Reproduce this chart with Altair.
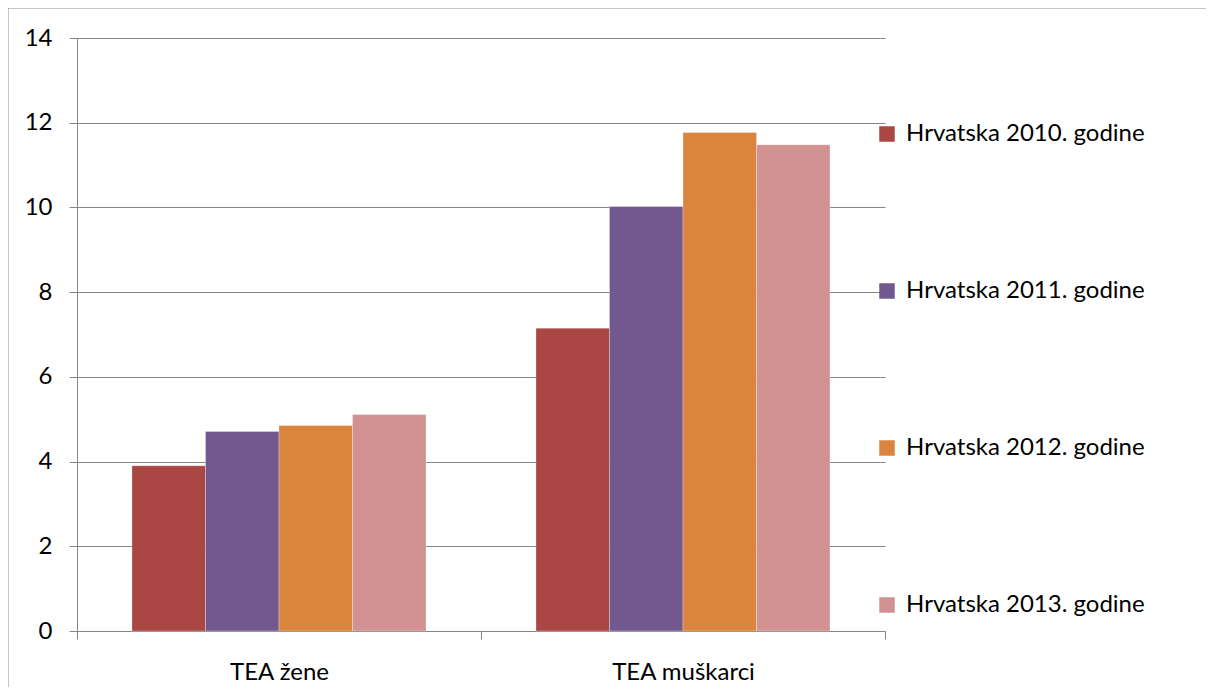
import altair as alt
import pandas as pd

categories = ["TEA žene", "TEA muškarci"]
series = ["Hrvatska 2010. godine", "Hrvatska 2011. godine",
          "Hrvatska 2012. godine", "Hrvatska 2013. godine"]
v2010 = [3.90, 7.15]
v2011 = [4.71, 10.02]
v2012 = [4.85, 11.77]
v2013 = [5.11, 11.48]
colors = ["#AA4643", "#71588F", "#DB843D", "#D39292"]
y_ticks = [0, 2, 4, 6, 8, 10, 12, 14]

rows = []
for s, vals in zip(series, [v2010, v2011, v2012, v2013]):
    for c, v in zip(categories, vals):
        rows.append({"kategorija": c, "serija": s, "vrijednost": v})
df = pd.DataFrame(rows)

FONT = "Lato"
FS = 24
GRAY = "#868686"
W, H = 808, 593

bars = alt.Chart(df).mark_bar(stroke="white", strokeWidth=0.6, strokeOpacity=0.5).encode(
    x=alt.X("kategorija:N", sort=categories,
            scale=alt.Scale(paddingInner=0, paddingOuter=0),
            axis=alt.Axis(title=None, labelAngle=0, tickBand="extent", grid=False,
                          domainColor=GRAY, tickColor=GRAY, tickSize=8,
                          labelFont=FONT, labelFontSize=FS, labelColor="black",
                          labelPadding=21)),
    xOffset=alt.XOffset("serija:N", sort=series,
                        scale=alt.Scale(paddingInner=0, paddingOuter=0.748)),
    y=alt.Y("vrijednost:Q", scale=alt.Scale(domain=[0, 14]),
            axis=alt.Axis(title=None, values=y_ticks, grid=True, gridColor=GRAY,
                          domainColor=GRAY, tickColor=GRAY, tickSize=8,
                          labelFont=FONT, labelFontSize=FS, labelColor="black",
                          labelPadding=17)),
    color=alt.Color("serija:N", sort=series,
                    scale=alt.Scale(domain=series, range=colors),
                    legend=alt.Legend(title=None, orient="none", legendX=798, legendY=84,
                                      symbolType="square", symbolSize=240,
                                      symbolStrokeWidth=0, labelFont=FONT,
                                      labelFontSize=FS, labelColor="black",
                                      rowPadding=133, labelOffset=7, labelLimit=400)),
)

one = pd.DataFrame({"f": [0]})
frame_left = alt.Chart(one).mark_rule(color="#8c8c8c", strokeWidth=1).encode(
    x=alt.value(-69), y=alt.value(-30), y2=alt.value(H + 56))
frame_top = alt.Chart(one).mark_rule(color="#8c8c8c", strokeWidth=1).encode(
    x=alt.value(-69), x2=alt.value(W + 321), y=alt.value(-30))

chart = alt.layer(frame_left, frame_top, bars).properties(
    width=W, height=H,
    autosize=alt.AutoSizeParams(type="none"),
    padding={"left": 69, "top": 30, "right": 321, "bottom": 56},
    background="white",
).configure_view(stroke=None)

chart.save("out.html", embed_options={"renderer": "svg", "actions": False})
